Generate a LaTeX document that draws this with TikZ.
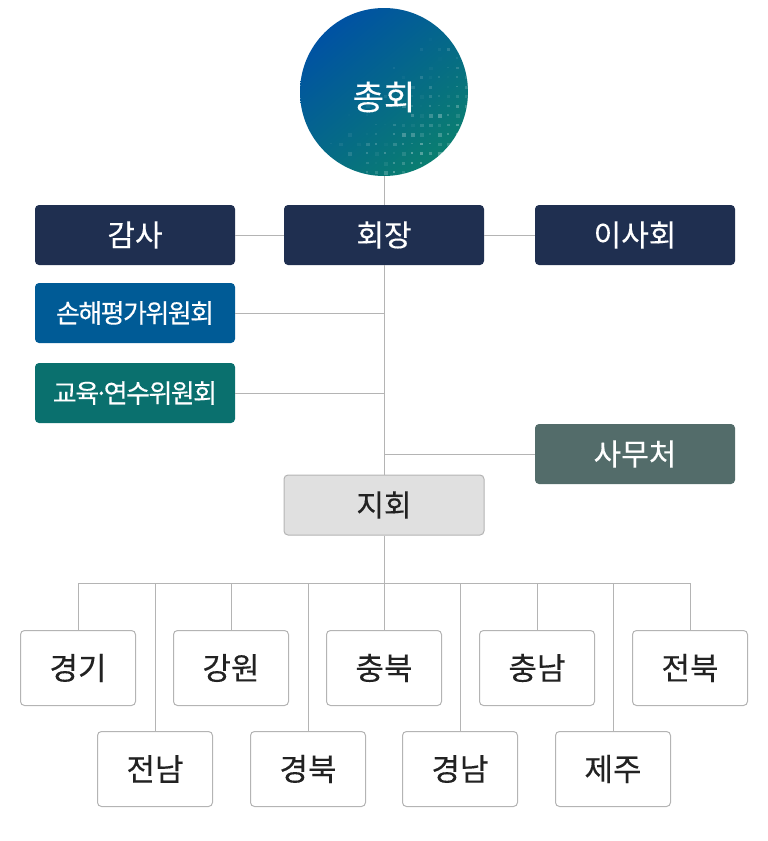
\documentclass[tikz,border=0pt]{standalone}
\usepackage{fontspec}
\setmainfont{Noto Sans CJK KR}[FakeBold=0.25]
\definecolor{navy}{HTML}{1F2F50}
\definecolor{cblue}{HTML}{005B96}
\definecolor{cteal}{HTML}{0A706E}
\definecolor{cgrey}{HTML}{536C6A}
\definecolor{lgrey}{HTML}{E0E0E0}
\definecolor{edge}{HTML}{B4B4B4}
\definecolor{gtop}{HTML}{0052A3}
\definecolor{gbot}{HTML}{0A7E70}
\definecolor{ink}{HTML}{222222}
\begin{document}
\begin{tikzpicture}[x=1pt,y=-1pt,
  conn/.style={draw=edge,line width=1pt},
  darkbox/.style={rectangle,rounded corners=4pt,minimum width=200pt,minimum height=60pt,text=white,inner sep=0pt,font=\fontsize{30}{32}\selectfont},
  combox/.style={darkbox,font=\fontsize{26}{28}\selectfont\addfontfeature{LetterSpace=-6}},
  regbox/.style={rectangle,rounded corners=4pt,draw=edge,line width=1pt,fill=white,minimum width=115pt,minimum height=75pt,text=ink,inner sep=0pt,font=\fontsize{31}{33}\selectfont}]
\useasboundingbox (0,0) rectangle (768,841);
% circle
\begin{scope}
\clip (384,92) circle (84pt);
\shade[top color=gtop,bottom color=gbot,shading angle=40] (300,8) rectangle (468,176);
\pgfmathsetseed{7}
\foreach \i in {0,...,15}{
  \foreach \j in {0,...,14}{
    \pgfmathsetmacro{\px}{330+9*\i}
    \pgfmathsetmacro{\py}{38+9.5*\j}
    \pgfmathsetmacro{\op}{max(0,rnd*0.25-0.14+0.0025*(\px-384)+0.0025*(\py-92))}
    \pgfmathsetmacro{\sz}{1.5+rnd*2.5}
    \fill[white,opacity=\op] (\px,\py) rectangle ++(\sz,\sz);
  }
}
\end{scope}
\node[circle,minimum size=168pt,inner sep=0pt] (chong) at (384,92) {};
\node[text=white,font=\fontsize{34}{36}\selectfont] (chongtxt) at (384,97) {총회};
% top row
\node[darkbox,fill=navy] (gamsa) at (135,235) {감사};
\node[darkbox,fill=navy] (hoejang) at (384,235) {회장};
\node[darkbox,fill=navy] (isa) at (635,235) {이사회};
\node[combox,fill=cblue] (son) at (135,313) {손해평가위원회};
\node[combox,fill=cteal] (edu) at (135,393) {교육\kern-5pt·\kern-5pt연수위원회};
\node[darkbox,fill=cgrey] (samu) at (635,454) {사무처};
\node[darkbox,fill=lgrey,draw=edge,line width=1pt,text=ink] (jihoe) at (384,505) {지회};
% regions
\node[regbox] (r1) at (78,668) {경기};
\node[regbox] (r2) at (231,668) {강원};
\node[regbox] (r3) at (384,668) {충북};
\node[regbox] (r4) at (537,668) {충남};
\node[regbox] (r5) at (690,668) {전북};
\node[regbox] (s1) at (155,769) {전남};
\node[regbox] (s2) at (308,769) {경북};
\node[regbox] (s3) at (460,769) {경남};
\node[regbox] (s4) at (613,769) {제주};
% connectors
\coordinate (busL) at (78,583);
\coordinate (busR) at (690,583);
\draw[conn] (chong.south) -- (hoejang.north);
\draw[conn] (gamsa.east) -- (hoejang.west);
\draw[conn] (hoejang.east) -- (isa.west);
\draw[conn] (hoejang.south) -- (jihoe.north);
\draw[conn] (son.east) -- (son.east -| hoejang.south);
\draw[conn] (edu.east) -- (edu.east -| hoejang.south);
\draw[conn] (samu.west) -- (samu.west -| hoejang.south);
\draw[conn] (jihoe.south) -- (jihoe.south |- busL);
\draw[conn] (busL) -- (busR);
\foreach \n in {r1,r2,r3,r4,r5,s1,s2,s3,s4}{
  \draw[conn] (\n.north |- busL) -- (\n.north);
}
\end{tikzpicture}
\end{document}
